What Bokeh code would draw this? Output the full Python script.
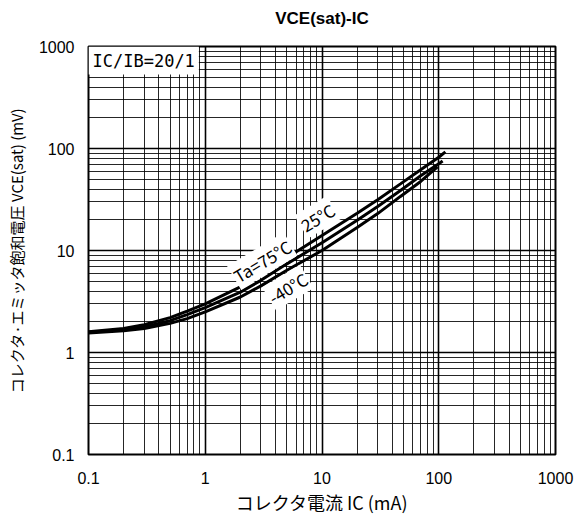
from bokeh.plotting import figure
from bokeh.models import Label, FixedTicker, NumeralTickFormatter, LogAxis
from bokeh.embed import file_html
from bokeh.resources import INLINE

# ---- data ----
ic_75 = [0.1, 0.2, 0.3, 0.5, 0.7, 1, 2, 3, 5, 10, 20, 30, 47, 70, 100, 114]
vce_75 = [1.6, 1.72, 1.87, 2.2, 2.55, 3.0, 4.4, 5.8, 8.5, 14, 23.2, 31.5, 45, 62, 82, 92.5]

ic_25 = [0.1, 0.2, 0.3, 0.5, 0.7, 1, 2, 3, 5, 10, 20, 30, 47, 70, 100, 108]
vce_25 = [1.58, 1.67, 1.78, 2.05, 2.35, 2.75, 3.9, 5.1, 7.4, 11.9, 19.8, 27, 38.8, 54, 71, 75.5]

ic_m40 = [0.1, 0.2, 0.3, 0.5, 0.7, 1, 2, 3, 5, 10, 20, 30, 47, 70, 97.6]
vce_m40 = [1.55, 1.63, 1.72, 1.93, 2.15, 2.5, 3.5, 4.5, 6.4, 10.0, 16.8, 23, 33.9, 47.5, 66]

major_ticks = [0.1, 1, 10, 100, 1000]
title_text = "VCE(sat)-IC"
x_label = "コレクタ電流 IC (mA)"
y_label = "コレクタ·エミッタ飽和電圧 VCE(sat) (mV)"
cond_text = "IC/IB=20/1"
temp_labels = ["Ta=75°C", "25°C", "-40°C"]
temp_label_x = [3.08, 9.16, 5.11]
temp_label_y = [7.9, 21.2, 4.32]

minor_ticks = [m * d for d in [0.1, 1, 10, 100] for m in range(2, 10)]

JP = "Noto Sans CJK JP"
NUM = "Liberation Sans"

p = figure(width=577, height=517, x_axis_type="log", y_axis_type="log",
           x_range=(0.1, 1000), y_range=(0.1, 1000),
           output_backend="svg", toolbar_location=None,
           min_border_left=88, min_border_right=22,
           min_border_top=46, min_border_bottom=60)

xa = p.below[0]
ya = p.left[0]
for ax in (xa, ya):
    ax.ticker = FixedTicker(ticks=major_ticks, minor_ticks=minor_ticks)
    ax.formatter = NumeralTickFormatter(format="0.[0]")
    ax.major_tick_line_color = None
    ax.minor_tick_line_color = None
    ax.major_tick_out = 0
    ax.minor_tick_out = 0
    ax.axis_line_color = None
    ax.major_label_text_font = NUM
    ax.major_label_text_font_size = "16px"
    ax.major_label_text_color = "black"
    ax.axis_label_text_font = JP
    ax.axis_label_text_font_style = "normal"
    ax.axis_label_text_color = "black"

xa.axis_label = x_label
xa.axis_label_text_font_size = "18px"
xa.major_label_standoff = 17
xa.axis_label_standoff = 2

ya.axis_label = y_label
ya.axis_label_text_font_size = "15px"
ya.major_label_standoff = 14
ya.axis_label_standoff = 9

# title drawn as the label of an empty axis above the frame
top_axis = LogAxis(ticker=FixedTicker(ticks=[]), axis_label=title_text,
                   axis_line_color=None, major_tick_line_color=None,
                   minor_tick_line_color=None, major_tick_out=0, minor_tick_out=0,
                   major_label_text_font_size="0px", major_label_standoff=0,
                   axis_label_text_font=NUM, axis_label_text_font_style="bold",
                   axis_label_text_font_size="17px", axis_label_text_color="black",
                   axis_label_standoff=19)
p.add_layout(top_axis, "above")

for g in (p.xgrid, p.ygrid):
    g.grid_line_color = "black"
    g.grid_line_width = 1.6
    g.minor_grid_line_color = "black"
    g.minor_grid_line_width = 1
    g.minor_grid_line_alpha = 0.85

p.outline_line_color = "black"
p.outline_line_width = 2
p.background_fill_color = "white"
p.border_fill_color = "white"

for xs, ys in ((ic_75, vce_75), (ic_25, vce_25), (ic_m40, vce_m40)):
    p.line(xs, ys, line_color="black", line_width=3)

p.add_layout(Label(x=0.1, y=1000, text=cond_text, text_align="left", text_baseline="top",
                   text_font="DejaVu Sans Mono", text_font_size="17px", text_color="black",
                   background_fill_color="white", padding=4))

for t, lx, ly in zip(temp_labels, temp_label_x, temp_label_y):
    p.add_layout(Label(x=lx, y=ly, text=t, angle=0.54, text_align="center",
                       text_baseline="middle", text_font=JP, text_font_size="17px",
                       text_color="black", background_fill_color="white", padding=1))

open("out.html", "w").write(file_html(p, INLINE))
